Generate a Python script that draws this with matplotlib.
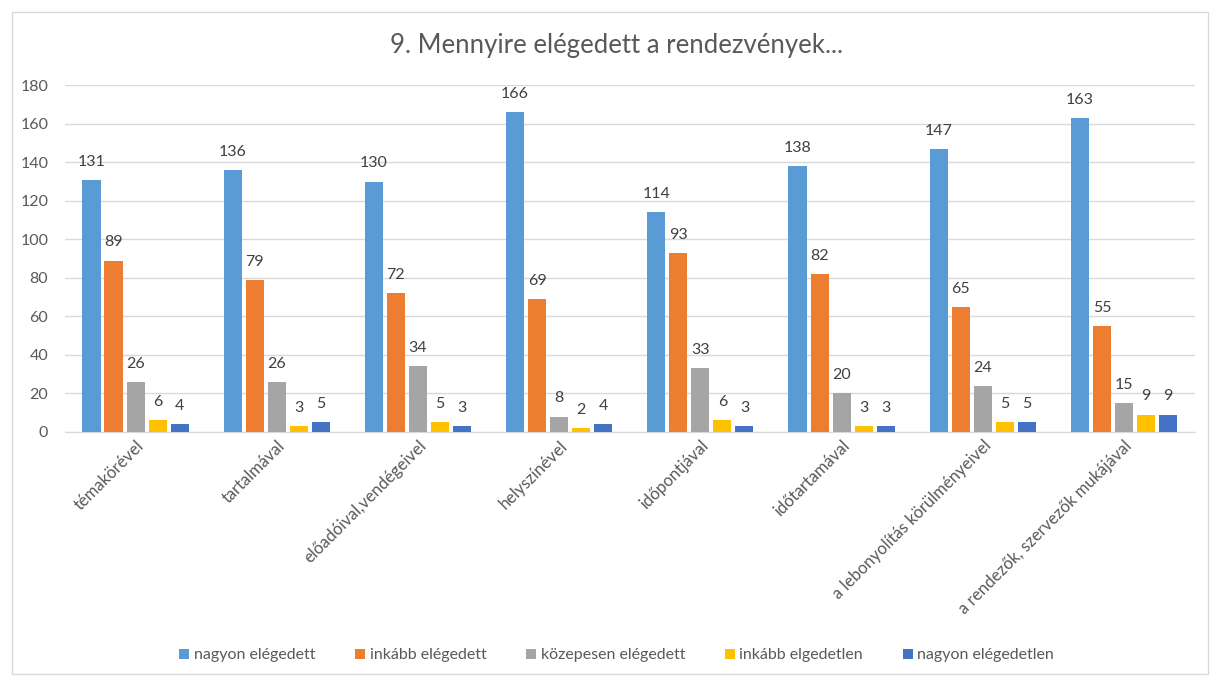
import matplotlib.pyplot as plt
import numpy as np
from matplotlib.patches import Rectangle

plt.rcParams['font.family'] = ['Lato', 'DejaVu Sans']

categories = ["témakörével", "tartalmával", "előadóival,vendégeivel", "helyszínével",
              "időpontjával", "időtartamával", "a lebonyolítás körülményeivel",
              "a rendezők, szervezők mukájával"]
series = ["nagyon elégedett", "inkább elégedett", "közepesen elégedett",
          "inkább elgedetlen", "nagyon elégedetlen"]
values = [
    [131, 136, 130, 166, 114, 138, 147, 163],
    [89, 79, 72, 69, 93, 82, 65, 55],
    [26, 26, 34, 8, 33, 20, 24, 15],
    [6, 3, 5, 2, 6, 3, 5, 9],
    [4, 5, 3, 4, 3, 3, 5, 9],
]
colors = ["#5B9BD5", "#ED7D31", "#A5A5A5", "#FFC000", "#4472C4"]

fig = plt.figure(figsize=(12.14, 6.77), dpi=100)
fig.patches.append(Rectangle((0.01, 0.005), 0.985, 0.978, transform=fig.transFigure,
                             fill=False, edgecolor="#D9D9D9", linewidth=1))
ax = fig.add_axes([0.0535, 0.362, 0.9305, 0.512])

x = np.arange(len(categories))
step = 0.156
width = 0.128
for i, (name, vals, c) in enumerate(zip(series, values, colors)):
    pos = x + (i - 2) * step
    bars = ax.bar(pos, vals, width, color=c, label=name, zorder=3)
    ax.bar_label(bars, padding=8, fontsize=11.5, color="#404040")

ax.set_xlim(-0.5, len(categories) - 0.5)
ax.set_ylim(0, 180)
ax.set_yticks(range(0, 181, 20))
ax.yaxis.grid(True, color="#D9D9D9", linewidth=1, zorder=0)
ax.tick_params(axis="y", length=0, labelsize=11.5, labelcolor="#595959", pad=12)
ax.tick_params(axis="x", length=0, labelsize=12, labelcolor="#595959", pad=4)
ax.set_xticks(x)
ax.set_xticklabels(categories, rotation=45, ha="right", rotation_mode="anchor")
for s in ["top", "right", "left"]:
    ax.spines[s].set_visible(False)
ax.spines["bottom"].set_color("#D9D9D9")

fig.text(0.508, 0.933, "9. Mennyire elégedett a rendezvények...", ha="center", va="center",
         fontsize=18.5, color="#595959")

fig.legend(loc="center", bbox_to_anchor=(0.508, 0.032), ncol=5, frameon=False,
           fontsize=11.5, labelcolor="#595959", handlelength=0.6, handleheight=0.6,
           handletextpad=0.3, columnspacing=2.5)

fig.savefig("out.png", dpi=100)
